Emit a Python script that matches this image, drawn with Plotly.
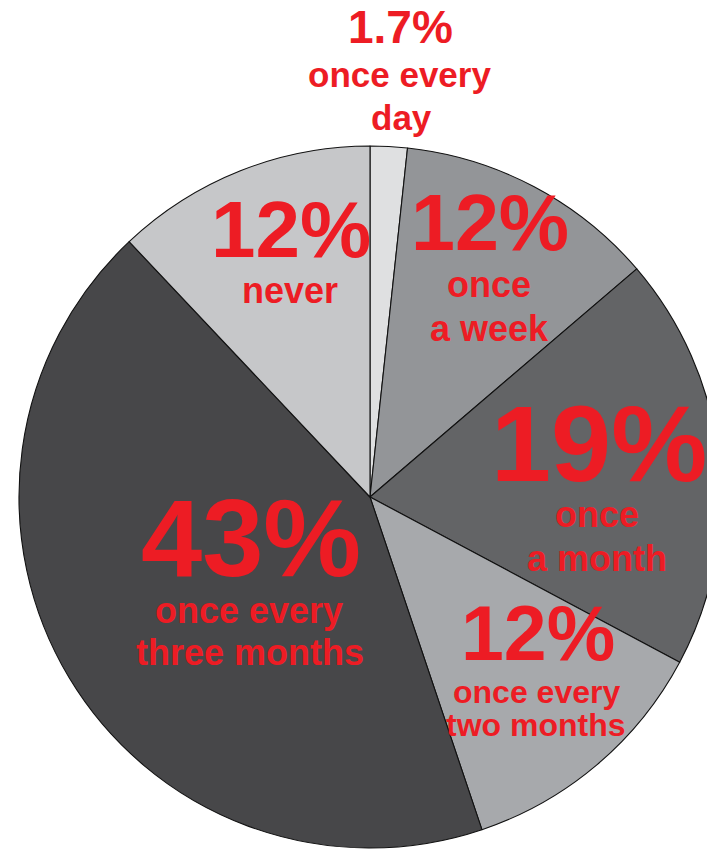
import plotly.graph_objects as go

# Survey: how often respondents do it
categories = ["once every day", "once a week", "once a month",
              "once every two months", "once every three months", "never"]
shares = [1.7, 12, 19, 12, 43, 12]
label_lines = [["once every", "day"], ["once", "a week"], ["once", "a month"],
               ["once every", "two months"], ["once every", "three months"], ["never"]]

slice_colors = ["#dfe0e1", "#939598", "#636466", "#a7a9ac", "#474749", "#c6c7c9"]
RED = "#ed1c24"
FONT = "Liberation Sans, Arial, Helvetica, sans-serif"

W, H = 740, 849
CX, CY, R = 370, 497, 351

fig = go.Figure(go.Pie(
    labels=categories,
    values=shares,
    sort=False,
    direction="clockwise",
    rotation=0,
    textinfo="none",
    hoverinfo="label+value",
    marker=dict(colors=slice_colors, line=dict(color="#111111", width=1.1)),
    domain=dict(x=[(CX - R) / W, (CX + R) / W],
                y=[1 - (CY + R) / H, 1 - (CY - R) / H]),
))

# per-slice label layout: (x, y, size) for the percentage, then for each text line
label_layout = [
    [(400, 27, 46), (399, 75, 35), (401, 118, 35)],
    [(490, 223, 79), (489, 285, 36), (489, 328, 36)],
    [(599, 443, 108), (597, 514, 36), (597, 558, 36)],
    [(538, 633, 77), (536, 692, 32), (536, 725, 32)],
    [(251, 537, 110), (249, 610, 36), (250, 652, 36)],
    [(291, 230, 80), (290, 290, 36)],
]

annotations = []
for val, lines, spots in zip(shares, label_lines, label_layout):
    texts = [f"{val:g}%"] + lines
    for txt, (px, py, size) in zip(texts, spots):
        annotations.append(dict(
            text=f"<b>{txt}</b>", x=px / W, y=1 - py / H,
            xref="paper", yref="paper", xanchor="center", yanchor="middle",
            showarrow=False, font=dict(family=FONT, size=size, color=RED),
        ))

fig.update_layout(
    width=W, height=H,
    margin=dict(l=0, r=0, t=0, b=0),
    paper_bgcolor="white", plot_bgcolor="white",
    showlegend=False,
    annotations=annotations,
)

fig.write_html("out.html", config={"displayModeBar": False},
               post_script="document.documentElement.style.overflow='hidden';"
                           "document.body.style.overflow='hidden';")
